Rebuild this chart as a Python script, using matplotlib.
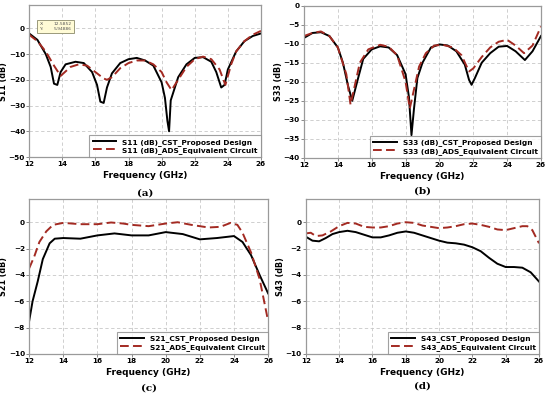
import matplotlib.pyplot as plt
from matplotlib.patches import Rectangle

# (a) S11
f_s11_cst = [12, 12.5, 13, 13.3, 13.5, 13.7, 13.9, 14.2, 14.8, 15.3, 15.8, 16.1, 16.3, 16.5, 16.7,
             17, 17.5, 18, 18.5, 19, 19.5, 20, 20.2, 20.35, 20.45, 20.55, 21, 21.5, 22, 22.5,
             23, 23.3, 23.6, 23.8, 24, 24.5, 25, 25.5, 26]
s11_cst = [-2, -4.5, -10, -15, -21.5, -22, -17, -14, -13, -13.5, -17, -22, -28.5, -29, -23,
           -17.5, -13.5, -12, -11.5, -12.5, -14.5, -21, -27, -36, -40, -28, -19, -14, -11.5, -11.2,
           -13, -17, -23, -22, -16, -9, -5, -3, -2]
f_s11_ads = [12, 12.5, 13, 13.5, 13.9, 14.5, 15, 15.5, 16, 16.5, 16.7, 17, 17.5, 18, 18.5, 19,
             19.5, 20, 20.3, 20.6, 21, 21.5, 22, 22.5, 23, 23.5, 23.85, 24.2, 24.5, 25, 25.5, 26]
s11_ads = [-2.5, -5, -9, -14.5, -18.5, -15, -14, -14.5, -17, -19.5, -20, -19, -15.5, -13.5, -12.5, -12.5,
           -14, -17, -21, -24, -20, -15, -12, -11, -12, -16, -22, -14, -9, -5, -2.5, -1]

# (b) S33
f_s33_cst = [12, 12.5, 13, 13.5, 14, 14.3, 14.6, 14.85, 15.2, 15.5, 16, 16.5, 17, 17.5, 18, 18.2,
             18.35, 18.5, 18.7, 19, 19.5, 20, 20.5, 21, 21.5, 21.75, 21.9, 22.1, 22.5, 23, 23.5,
             24, 24.5, 25.05, 25.5, 26]
s33_cst = [-8.5, -7.2, -7, -8, -11, -15, -21, -25, -19, -14, -11.5, -10.7, -11, -13, -18, -24,
           -34, -27, -19, -15, -11, -10.2, -10.5, -12, -15.5, -19.5, -20.8, -19, -15, -12.5, -10.8,
           -10.6, -12, -14.3, -12, -8]
f_s33_ads = [12, 12.5, 13, 13.5, 14, 14.5, 14.75, 15, 15.3, 15.8, 16.5, 17, 17.5, 18, 18.25, 18.5,
             18.8, 19.2, 19.7, 20.2, 20.8, 21.3, 21.75, 22.0, 22.5, 23, 23.5, 24, 24.5, 25, 25.5, 26]
s33_ads = [-8, -7.2, -6.8, -8, -11, -18, -26, -21, -15, -11.5, -10.3, -10.8, -13, -20, -27, -22,
           -16, -12.5, -10.5, -10.3, -11, -13, -17.3, -16.5, -13.5, -11, -9.5, -9, -10.5, -12.5,
           -10.5, -5.5]

# (c) S21
f_s21_cst = [12, 12.2, 12.5, 12.8, 13, 13.2, 13.5, 14, 15, 16, 17, 18, 19, 20, 21, 22, 23, 24,
             24.5, 25, 25.5, 26]
s21_cst = [-7.5, -6, -4.5, -2.8, -2.2, -1.6, -1.25, -1.2, -1.25, -1.0, -0.85, -1.0, -1.0, -0.75,
           -0.9, -1.3, -1.2, -1.05, -1.5, -2.5, -4, -5.4]
f_s21_ads = [12, 12.3, 12.6, 13, 13.4, 14, 15, 16, 16.8, 17.5, 18, 19, 20, 20.7, 21.5, 22.5, 23.2,
             23.8, 24.2, 24.5, 25, 25.5, 26]
s21_ads = [-3.5, -2.6, -1.5, -0.7, -0.2, -0.05, -0.15, -0.15, -0.02, -0.1, -0.2, -0.3, -0.1, 0.0,
           -0.2, -0.4, -0.35, -0.05, -0.2, -0.8, -2.3, -4.3, -7.5]

# (d) S43
f_s43 = [12, 12.4, 12.8, 13.2, 13.6, 14, 14.5, 15, 15.5, 16, 16.5, 17, 17.5, 18, 18.5, 19, 19.5,
         20, 20.5, 21, 21.5, 22, 22.5, 23, 23.5, 24, 24.5, 25, 25.5, 26]
s43_cst = [-1.1, -1.4, -1.45, -1.2, -0.9, -0.75, -0.65, -0.75, -0.95, -1.15, -1.15, -1.0, -0.8,
           -0.7, -0.8, -1.0, -1.2, -1.4, -1.55, -1.6, -1.7, -1.9, -2.2, -2.7, -3.15, -3.4, -3.4,
           -3.45, -3.8, -4.5]
f_s43_ads = [12, 12.3, 12.6, 13, 13.5, 14, 14.5, 15, 15.5, 16, 16.5, 17, 17.5, 18, 18.5, 19, 19.5,
             20, 20.5, 21, 21.5, 22, 22.5, 23, 23.5, 24, 24.5, 25, 25.3, 25.6, 26]
s43_ads = [-0.85, -0.8, -1.05, -1.0, -0.7, -0.3, -0.05, -0.1, -0.35, -0.4, -0.4, -0.3, -0.1, 0.0,
           -0.05, -0.25, -0.35, -0.45, -0.4, -0.3, -0.15, -0.1, -0.2, -0.35, -0.55, -0.6, -0.45,
           -0.3, -0.3, -0.6, -1.6]

RED = "#a32a22"
GRID = "#c8c8c8"

fig = plt.figure(figsize=(5.5, 3.95), dpi=100)

panels = [
    # rect, data, ylabel, ylim, ticks, legend labels, caption
    ([0.053, 0.6025, 0.4215, 0.3845], (f_s11_cst, s11_cst, f_s11_ads, s11_ads), "S11 (dB)",
     (-50, 9), range(-50, 1, 10),
     ("S11 (dB)_CST_Proposed Design", "S11 (dB)_ADS_Equivalent Circuit"), "(a)", 0.512),
    ([0.5527, 0.600, 0.4309, 0.386], (f_s33_cst, s33_cst, f_s33_ads, s33_ads), "S33 (dB)",
     (-40, 0), range(-40, 1, 5),
     ("S33 (dB)_CST_Proposed Design", "S33 (dB)_ADS_Equivalent Circuit"), "(b)", 0.517),
    ([0.053, 0.1038, 0.4345, 0.392], (f_s21_cst, s21_cst, f_s21_ads, s21_ads), "S21 (dB)",
     (-10, 1.75), range(-10, 1, 2),
     ("S21_CST_Proposed Design", "S21_ADS_Equivalent Circuit"), "(c)", 0.018),
    ([0.556, 0.1038, 0.424, 0.392], (f_s43, s43_cst, f_s43_ads, s43_ads), "S43 (dB)",
     (-10, 1.75), range(-10, 1, 2),
     ("S43_CST_Proposed Design", "S43_ADS_Equivalent Circuit"), "(d)", 0.022),
]

for rect, (fc, yc, fa, ya), ylab, ylim, yt, labs, cap, capy in panels:
    ax = fig.add_axes(rect)
    ax.plot(fc, yc, color="black", lw=1.4, label=labs[0])
    ax.plot(fa, ya, color=RED, lw=1.4, ls=(0, (4.5, 2.2)), label=labs[1])
    ax.set_xlim(12, 26)
    ax.set_ylim(*ylim)
    ax.set_xticks(range(12, 27, 2))
    ax.set_yticks(list(yt))
    ax.grid(True, color=GRID, ls=(0, (4, 3)), lw=0.6)
    for s in ax.spines.values():
        s.set_color("#9a9a9a")
        s.set_linewidth(0.9)
    ax.tick_params(labelsize=5.2, length=2, width=0.6, color="#777777", pad=1)
    for t in ax.get_xticklabels() + ax.get_yticklabels():
        t.set_fontweight("bold")
    ax.set_ylabel(ylab, fontsize=5.8, fontweight="bold", labelpad=0.5)
    ax.set_xlabel("Frequency (GHz)", fontsize=6.5, fontweight="bold", labelpad=3)
    leg = ax.legend(loc="lower right", fontsize=5.3, frameon=True, fancybox=False,
                    borderaxespad=0, handlelength=3.2, borderpad=0.45, labelspacing=0.15,
                    handletextpad=0.8)
    leg.get_frame().set_edgecolor("#8a8a8a")
    leg.get_frame().set_linewidth(0.8)
    for t in leg.get_texts():
        t.set_fontweight("bold")
    x0, _, w, _ = rect
    fig.text(x0 + w / 2, capy, cap, ha="center", va="center", fontsize=7.5,
             fontweight="bold", family="DejaVu Serif")
    if cap == "(a)":
        # marker readout box
        ax.add_patch(Rectangle((0.034, 0.816), 0.16, 0.084, transform=ax.transAxes,
                               fc="#fffbd6", ec="#8a8a6a", lw=0.6, zorder=5))
        ax.text(0.045, 0.858, "X:\nY:", transform=ax.transAxes, fontsize=3.2, va="center",
                linespacing=1.3, color="#555555", zorder=6)
        ax.text(0.185, 0.858, "12.5852\n5.94886", transform=ax.transAxes, fontsize=3.2,
                va="center", ha="right", linespacing=1.3, color="#555555", zorder=6)

fig.savefig("out.png", dpi=100)
